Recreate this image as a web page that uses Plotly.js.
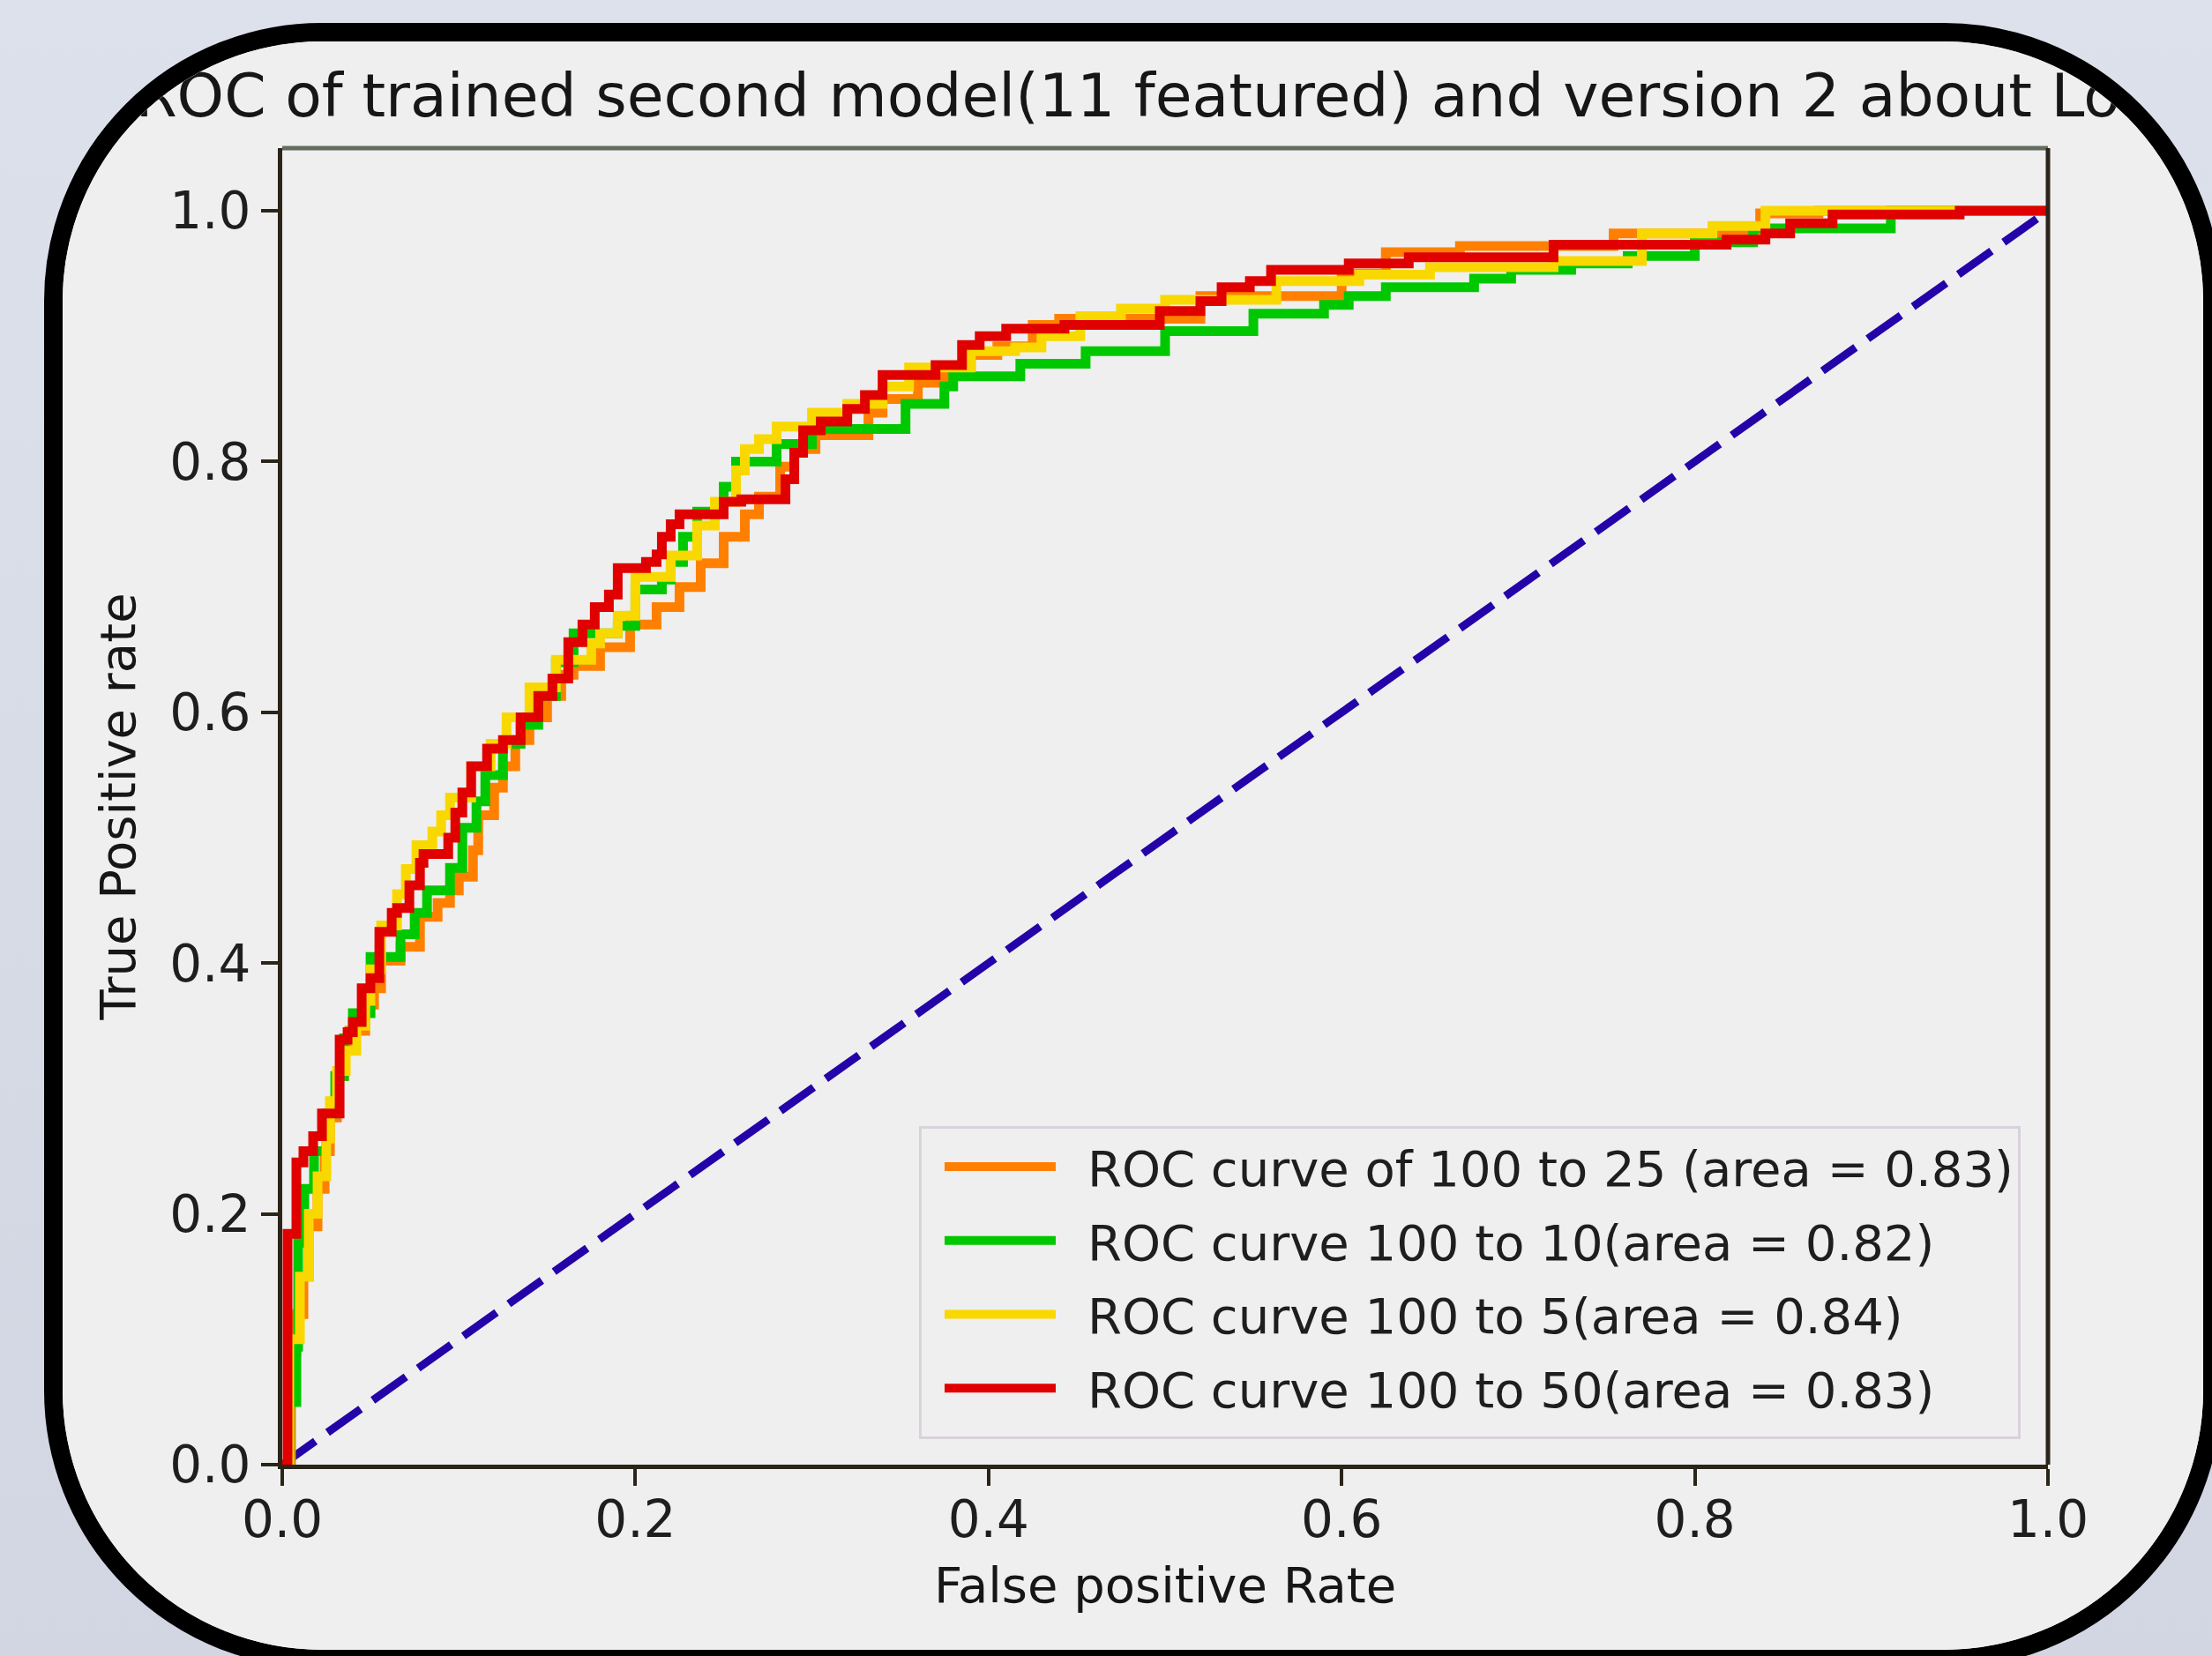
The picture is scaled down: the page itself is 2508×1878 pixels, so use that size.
<!DOCTYPE html>
<html><head><meta charset="utf-8">
<script src="https://cdn.plot.ly/plotly-3.0.1.min.js"></script>
<style>
html,body{margin:0;padding:0;width:2508px;height:1878px;overflow:hidden;background:linear-gradient(#dde1eb,#d2d6e2);}
#frame{position:absolute;left:50px;top:26px;width:2469px;height:1866px;box-sizing:border-box;border:21px solid #000;border-radius:315px;overflow:hidden;background:#efefef;}
#chart{position:absolute;left:-71px;top:-47px;width:2508px;height:1878px;}
</style></head><body>
<div id="frame"><div id="chart"></div></div>
<script>
// ROC curve vertices (fpr, tpr) - step curves drawn horizontal-then-vertical
const fpr25 = [0,0.005,0.008,0.012,0.015,0.02,0.024,0.027,0.031,0.035,0.038,0.047,0.052,0.056,0.067,0.078,0.088,0.095,0.1,0.108,0.111,0.12,0.125,0.132,0.14,0.15,0.158,0.165,0.18,0.197,0.212,0.225,0.237,0.25,0.262,0.27,0.282,0.29,0.302,0.332,0.34,0.36,0.375,0.39,0.405,0.425,0.44,0.52,0.6,0.625,0.667,0.754,0.837,0.87,1];
const tpr25 = [0,0.09,0.12,0.15,0.19,0.22,0.25,0.277,0.31,0.334,0.346,0.367,0.38,0.402,0.413,0.437,0.448,0.458,0.469,0.49,0.518,0.54,0.557,0.578,0.596,0.613,0.63,0.637,0.652,0.67,0.684,0.70,0.719,0.74,0.758,0.772,0.796,0.81,0.821,0.839,0.85,0.863,0.874,0.885,0.892,0.909,0.914,0.932,0.95,0.967,0.972,0.982,0.998,1.0,1.0];

const fpr10 = [0,0.004,0.008,0.009,0.0125,0.018,0.025,0.03,0.035,0.04,0.05,0.067,0.075,0.082,0.095,0.102,0.11,0.115,0.125,0.135,0.145,0.155,0.165,0.19,0.2,0.215,0.22,0.227,0.235,0.25,0.257,0.28,0.3,0.353,0.375,0.38,0.418,0.455,0.5,0.55,0.59,0.604,0.625,0.675,0.696,0.73,0.762,0.8,0.833,0.911,0.911,1];
const tpr10 = [0,0.05,0.094,0.177,0.22,0.25,0.28,0.31,0.34,0.36,0.405,0.423,0.44,0.458,0.476,0.508,0.529,0.55,0.575,0.59,0.613,0.64,0.663,0.669,0.698,0.706,0.72,0.74,0.76,0.78,0.80,0.814,0.826,0.846,0.86,0.868,0.878,0.888,0.904,0.918,0.925,0.932,0.939,0.946,0.953,0.958,0.964,0.975,0.986,0.993,1.0,1.0];

const fpr5 = [0,0.004,0.01,0.015,0.02,0.025,0.027,0.031,0.036,0.042,0.047,0.05,0.056,0.065,0.07,0.076,0.085,0.09,0.095,0.107,0.118,0.127,0.14,0.155,0.175,0.18,0.19,0.2,0.22,0.235,0.245,0.257,0.262,0.27,0.28,0.3,0.32,0.34,0.355,0.39,0.415,0.43,0.452,0.475,0.5,0.563,0.61,0.65,0.72,0.77,0.81,0.84,1];
const tpr5 = [0,0.1,0.15,0.2,0.23,0.26,0.29,0.314,0.33,0.35,0.37,0.395,0.43,0.455,0.475,0.494,0.505,0.518,0.532,0.557,0.575,0.596,0.62,0.642,0.655,0.663,0.677,0.708,0.725,0.749,0.768,0.793,0.81,0.818,0.828,0.839,0.846,0.86,0.875,0.888,0.891,0.90,0.916,0.922,0.929,0.944,0.949,0.955,0.96,0.982,0.988,1.0,1.0];

const fpr50 = [0,0.003,0.008,0.012,0.0175,0.0225,0.0325,0.037,0.04,0.045,0.05,0.055,0.062,0.065,0.072,0.078,0.08,0.094,0.098,0.102,0.107,0.116,0.125,0.135,0.145,0.153,0.162,0.17,0.177,0.185,0.19,0.206,0.212,0.215,0.22,0.225,0.25,0.26,0.285,0.29,0.295,0.305,0.32,0.33,0.34,0.37,0.385,0.395,0.41,0.443,0.497,0.52,0.532,0.548,0.56,0.604,0.638,0.72,0.818,0.84,0.854,0.878,0.95,1];
const tpr50 = [0,0.184,0.241,0.25,0.262,0.28,0.339,0.345,0.353,0.38,0.388,0.425,0.44,0.444,0.462,0.48,0.487,0.50,0.52,0.536,0.557,0.571,0.578,0.596,0.613,0.627,0.656,0.67,0.684,0.694,0.715,0.72,0.726,0.74,0.75,0.758,0.768,0.77,0.786,0.807,0.825,0.832,0.842,0.853,0.869,0.877,0.893,0.90,0.906,0.909,0.92,0.928,0.939,0.944,0.953,0.958,0.963,0.973,0.977,0.982,0.99,0.997,1.0,1.0];

const chanceX = [0,1];
const chanceY = [0,1];

const seriesNames = [
  'ROC curve of 100 to 25 (area = 0.83)',
  'ROC curve 100 to 10(area = 0.82)',
  'ROC curve 100 to 5(area = 0.84)',
  'ROC curve 100 to 50(area = 0.83)'
];
const xTicks = [0,0.2,0.4,0.6,0.8,1.0];
const yTicks = [0,0.2,0.4,0.6,0.8,1.0];
const titleText = 'ROC of trained second model(11 featured) and version 2 about Loan';
const xLabel = 'False positive Rate';
const yLabel = 'True Positive rate';

const colors = ['#ff8000','#00c800','#f9d800','#e00000'];
const xs = [fpr25,fpr10,fpr5,fpr50];
const ys = [tpr25,tpr10,tpr5,tpr50];

const FONT = 'DejaVu Sans, Verdana, sans-serif';
const traces = [{
  x: chanceX, y: chanceY, mode:'lines', showlegend:false,
  line:{color:'#2404a8', width:9, dash:'46px,17px'}, hoverinfo:'skip'
}];
for (let i=0;i<4;i++){
  traces.push({
    x: xs[i], y: ys[i], mode:'lines', name: seriesNames[i], legendgroup:'g'+i,
    line:{color:colors[i], width:11, shape:'hv'}
  });
}
const layout = {
  width:2508, height:1878,
  margin:{l:320, r:186, t:168, b:217, pad:0},
  paper_bgcolor:'#efefef', plot_bgcolor:'#efefef',
  font:{family:FONT, color:'#1e1e1e', size:56},
  title:{text:titleText, x:0.5, xref:'paper', xanchor:'center', y:1-108/1878, yref:'container', yanchor:'middle',
         font:{family:FONT, size:68, color:'#161616'}},
  xaxis:{range:[0,1], tickvals:xTicks, tickformat:'.1f', ticks:'outside', ticklen:19, tickwidth:4, tickcolor:'#2b2419',
         showline:true, linecolor:'#2b2419', linewidth:5, showgrid:false, zeroline:false, mirror:false,
         tickfont:{family:FONT, size:58, color:'#1e1e1e'}, ticklabelstandoff:-12,
         title:{text:xLabel, font:{family:FONT, size:56, color:'#161616'}, standoff:24}, automargin:false, fixedrange:true},
  yaxis:{range:[0,1.05], tickvals:yTicks, tickformat:'.1f', ticks:'outside', ticklen:19, tickwidth:4, tickcolor:'#2b2419',
         showline:true, linecolor:'#2b2419', linewidth:5, showgrid:false, zeroline:false, mirror:false,
         tickfont:{family:FONT, size:58, color:'#1e1e1e'}, ticklabelstandoff:0,
         title:{text:yLabel, font:{family:FONT, size:56, color:'#161616'}, standoff:22}, automargin:false, fixedrange:true},
  shapes:[
    {type:'line', xref:'paper', yref:'paper', x0:0, x1:1, y0:1, y1:1, line:{color:'#636d5e', width:5}, layer:'above'},
    {type:'line', xref:'paper', yref:'paper', x0:1, x1:1, y0:0, y1:1, line:{color:'#2b2419', width:5}, layer:'above'}
  ],
  legend:{x:0.9845, xanchor:'right', y:0.0268, yanchor:'bottom', bgcolor:'#efefef', bordercolor:'#d8d2da', borderwidth:3,
          font:{family:FONT, size:56, color:'#1e1e1e'}, itemwidth:168, tracegroupgap:8, traceorder:'grouped'},
  showlegend:true
};
Plotly.newPlot('chart', traces, layout, {staticPlot:true, displayModeBar:false}).then(function(){
  // matplotlib-style legend handles: longer sample line with a gap before the label
  document.querySelectorAll('#chart .legend .js-line').forEach(function(p){ p.setAttribute('d','M16,0h126'); });
  // matplotlib-style frame padding around the legend entries
  document.querySelectorAll('#chart .legend rect.bg').forEach(function(r){
    var x = parseFloat(r.getAttribute('x')||0), w = parseFloat(r.getAttribute('width')||0), h = parseFloat(r.getAttribute('height')||0);
    r.setAttribute('x', x-10); r.setAttribute('width', w+10); r.setAttribute('height', h+11);
  });
});
</script></body></html>
